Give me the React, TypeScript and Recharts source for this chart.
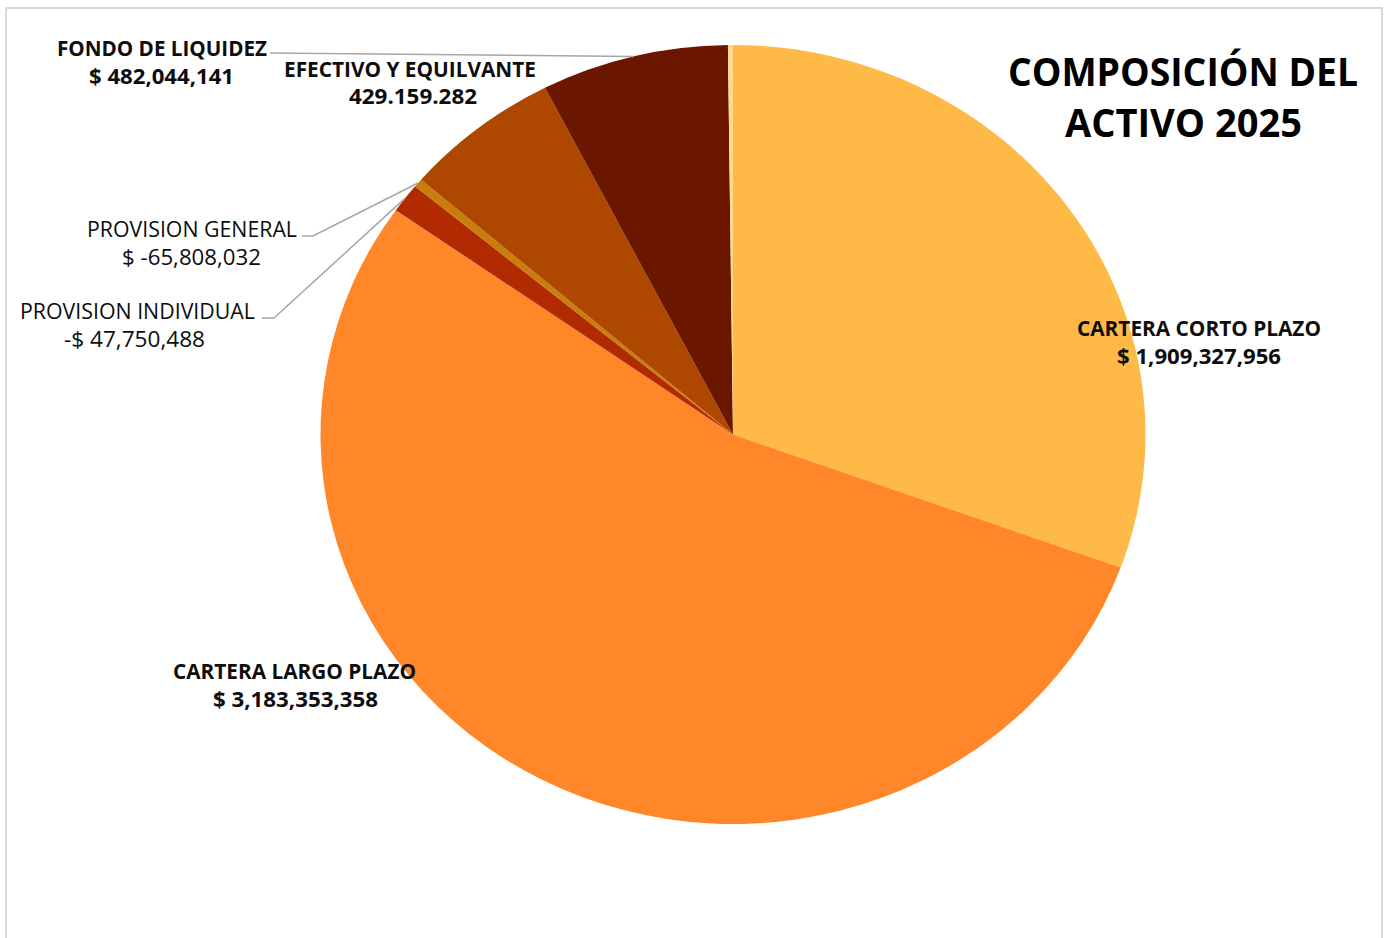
import { PieChart, Pie, Cell } from 'recharts';

// slices in drawing order, clockwise from 12 o'clock
const categories = [
    'CARTERA CORTO PLAZO',
    'CARTERA LARGO PLAZO',
    'PROVISION INDIVIDUAL',
    'PROVISION GENERAL',
    'EFECTIVO Y EQUILVANTE',
    'FONDO DE LIQUIDEZ',
    'OTROS',
];

const sliceValues = [1869000000, 3317000000, 75000000, 22000000, 374000000, 449000000, 12000000];

// figures as printed on the labels
const printedValues = [
    '$ 1,909,327,956',
    '$ 3,183,353,358',
    '-$ 47,750,488',
    '$ -65,808,032',
    '429.159.282',
    '$ 482,044,141',
    '',
];

const titleLines = ['COMPOSICIÓN DEL', 'ACTIVO 2025'];

const colors = ['#FFB946', '#FF8629', '#B22A00', '#C97E0B', '#AE4700', '#6B1700', '#FFD890'];

const W = 1386;
const H = 938;
const CX = 733;
const CY = 434.5;
const R = 389.5;
const STRETCH = 1.059; // the pie in the picture is a bit wider than tall
const FONT = '"Open Sans", "Liberation Sans", sans-serif';

type LabelBox = {
    x1: number; y1: number; w1: number;
    x2: number; y2: number; w2: number;
    bold: boolean;
    leader?: [number, number][];
};

// where each label sits (index matches categories)
const labelLayout: (LabelBox | null)[] = [
    { x1: 1077, y1: 336, w1: 244, x2: 1117, y2: 364, w2: 164, bold: true },
    { x1: 173, y1: 679, w1: 243, x2: 213, y2: 707, w2: 165, bold: true },
    { x1: 20, y1: 319, w1: 235, x2: 64, y2: 347, w2: 141, bold: false, leader: [[262, 318], [274, 318]] },
    { x1: 87, y1: 237, w1: 210, x2: 122, y2: 265, w2: 139, bold: false, leader: [[302, 236], [313, 236]] },
    { x1: 284, y1: 77, w1: 252, x2: 349, y2: 104, w2: 128, bold: true },
    { x1: 57, y1: 56, w1: 210, x2: 89, y2: 84, w2: 145, bold: true, leader: [[270, 53]] },
    null,
];

const chartData = categories.map((name, i) => ({ name, value: sliceValues[i] }));

const renderLabel = (props: any) => {
    const { cx, cy, midAngle, outerRadius, index } = props;
    const box = labelLayout[index];
    if (!box) return null;
    const rad = (midAngle * Math.PI) / 180;
    const ex = cx + outerRadius * Math.cos(rad) * STRETCH;
    const ey = cy - outerRadius * Math.sin(rad);
    const pts = box.leader ? [...box.leader, [ex, ey]] : null;
    const weight = box.bold ? 700 : 400;
    return (
        <g key={`label-${index}`}>
            {pts && (
                <polyline
                    points={pts.map((p) => p.join(',')).join(' ')}
                    fill="none"
                    stroke="#A6A6A6"
                    strokeWidth={1.5}
                />
            )}
            <text
                x={box.x1}
                y={box.y1}
                fontFamily={FONT}
                fontSize={21}
                fontWeight={weight}
                fill="#0D0D0D"
                textLength={box.w1}
                lengthAdjust="spacingAndGlyphs"
            >
                {categories[index]}
            </text>
            <text
                x={box.x2}
                y={box.y2}
                fontFamily={FONT}
                fontSize={21}
                fontWeight={weight}
                fill="#0D0D0D"
                textLength={box.w2}
                lengthAdjust="spacingAndGlyphs"
            >
                {printedValues[index]}
            </text>
        </g>
    );
};

export default function App() {
    return (
        <div style={{ position: 'relative', width: W, height: H, overflow: 'hidden', background: '#fff' }}>
            <style>{`
                body { margin: 0; }
                .stretched .recharts-sector {
                    transform-box: view-box;
                    transform-origin: ${CX}px ${CY}px;
                    transform: scaleX(${STRETCH});
                }
            `}</style>
            <div
                style={{
                    position: 'absolute',
                    left: 5,
                    top: 7,
                    width: 1374,
                    height: 960,
                    border: '2px solid #D9D9D9',
                }}
            />
            <div className="stretched" style={{ position: 'absolute', left: 0, top: 0 }}>
                <PieChart width={W} height={H} margin={{ top: 0, right: 0, bottom: 0, left: 0 }}>
                    <Pie
                        data={chartData}
                        dataKey="value"
                        nameKey="name"
                        cx={CX}
                        cy={CY}
                        outerRadius={R}
                        startAngle={90}
                        endAngle={-270}
                        stroke="none"
                        label={renderLabel}
                        labelLine={false}
                        isAnimationActive={false}
                    >
                        {chartData.map((entry, index) => (
                            <Cell key={`cell-${index}`} fill={colors[index]} />
                        ))}
                    </Pie>
                </PieChart>
            </div>
            <svg width={W} height={H} style={{ position: 'absolute', left: 0, top: 0, pointerEvents: 'none' }}>
                <text x={1008} y={86} fontFamily={FONT} fontSize={40} fontWeight={700} fill="#000" textLength={350} lengthAdjust="spacingAndGlyphs">
                    {titleLines[0]}
                </text>
                <text x={1065} y={137} fontFamily={FONT} fontSize={40} fontWeight={700} fill="#000" textLength={237} lengthAdjust="spacingAndGlyphs">
                    {titleLines[1]}
                </text>
            </svg>
        </div>
    );
}
